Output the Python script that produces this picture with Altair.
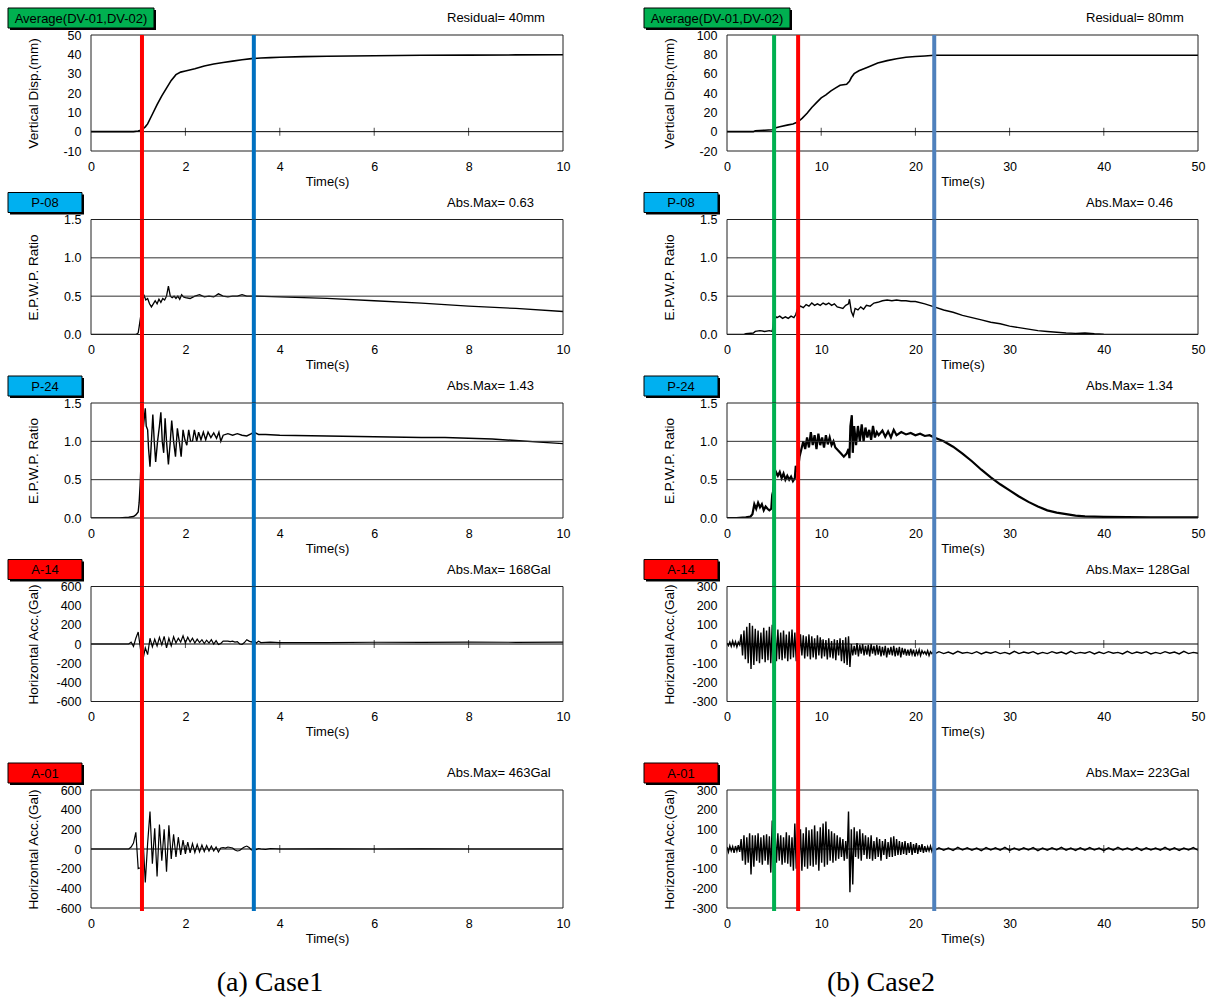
import altair as alt
import pandas as pd

FONT = "Liberation Sans"
SERIF = "Liberation Serif"

# ======================= Case 1 (0-10 s) =======================
c1_disp = [(0, 0), (0.5, 0), (0.9, 0), (1.0, 0.3), (1.05, 0.8), (1.1, 1.5), (1.15, 2.5),
           (1.2, 4), (1.3, 9), (1.4, 14), (1.5, 18.5), (1.6, 22.5), (1.7, 26.5), (1.8, 29.5),
           (1.9, 30.8), (2.0, 31.4), (2.2, 32.5), (2.4, 34.0), (2.6, 35.0), (2.8, 35.8),
           (3.0, 36.5), (3.2, 37.2), (3.4, 37.8), (3.6, 38.1), (3.8, 38.3), (4.0, 38.5),
           (4.5, 38.8), (5.0, 39.0), (6.0, 39.3), (7.0, 39.5), (8.0, 39.6), (9.0, 39.7), (10.0, 39.8)]

c1_p08 = [(0, 0), (0.95, 0), (1.0, 0.02), (1.02, 0.1), (1.08, 0.35), (1.12, 0.52), (1.16, 0.45),
          (1.2, 0.47), (1.24, 0.4), (1.28, 0.36), (1.32, 0.4), (1.36, 0.44), (1.4, 0.4),
          (1.44, 0.46), (1.48, 0.42), (1.52, 0.47), (1.56, 0.45), (1.6, 0.5), (1.64, 0.63),
          (1.68, 0.5), (1.72, 0.48), (1.76, 0.5), (1.8, 0.47), (1.84, 0.5), (1.88, 0.46),
          (1.92, 0.52), (1.96, 0.49), (2.0, 0.48), (2.1, 0.47), (2.2, 0.5), (2.3, 0.52),
          (2.4, 0.49), (2.5, 0.5), (2.6, 0.49), (2.7, 0.53), (2.8, 0.5), (2.9, 0.49),
          (3.0, 0.5), (3.1, 0.5), (3.2, 0.52), (3.3, 0.5), (3.5, 0.5), (4.0, 0.49),
          (5.0, 0.47), (6.0, 0.44), (7.0, 0.41), (8.0, 0.37), (9.0, 0.34), (10.0, 0.30)]

c1_p24 = [(0, 0), (0.6, 0), (0.8, 0.01), (0.9, 0.02), (0.95, 0.04), (1.0, 0.08), (1.02, 0.2),
          (1.04, 0.42), (1.08, 1.0), (1.12, 1.25), (1.15, 1.43), (1.17, 1.2), (1.2, 1.15),
          (1.22, 0.9), (1.25, 0.67), (1.28, 1.0), (1.31, 1.35), (1.34, 1.0), (1.37, 0.73),
          (1.41, 1.0), (1.45, 1.2), (1.48, 1.38), (1.51, 1.0), (1.54, 0.85), (1.57, 1.3),
          (1.6, 1.0), (1.64, 0.7), (1.68, 1.0), (1.71, 1.27), (1.75, 1.0), (1.79, 0.8),
          (1.83, 1.17), (1.87, 1.0), (1.91, 0.8), (1.95, 1.15), (1.99, 1.02), (2.03, 0.95),
          (2.07, 1.15), (2.11, 1.0), (2.15, 1.0), (2.19, 1.15), (2.24, 1.0), (2.28, 1.12),
          (2.33, 1.02), (2.38, 1.12), (2.43, 1.02), (2.48, 1.12), (2.54, 1.05), (2.6, 1.11),
          (2.66, 1.04), (2.71, 1.12), (2.75, 1.0), (2.8, 1.08), (2.9, 1.1), (3.0, 1.08),
          (3.1, 1.1), (3.2, 1.08), (3.3, 1.07), (3.4, 1.1), (3.45, 1.12), (3.55, 1.09),
          (3.7, 1.09), (4.0, 1.08), (5.0, 1.07), (6.0, 1.06), (7.0, 1.05), (7.5, 1.05),
          (8.0, 1.04), (8.5, 1.03), (9.0, 1.01), (9.5, 0.99), (10.0, 0.97)]

c1_a14_head = [(0, 0), (0.4, 0), (0.75, 0)]
c1_a14_t0, c1_a14_dt = 0.80, 0.05
c1_a14_vals = [0, 20, -25, 60, 125, -60, -165, -40, -110, 60,
               -30, 50, -20, 70, -10, 80, -40, 60, -20, 75,
               10, 60, 20, 85, 10, 70, 20, 60, 10, 50,
               15, 45, 5, 40, 10, 45, 0, 35, -5, 5,
               30, 30, 30, 25, 30, 20, 25, 0, -5, 15,
               45, 30, 20, 40, 10, 30, 15]
c1_a14_tail = [(3.8, 20), (4.0, 15), (5, 15), (6, 18), (7, 18), (8, 20), (9, 18), (10, 20)]

c1_a01_head = [(0, 0), (0.5, 0), (0.75, 0)]
c1_a01_t0, c1_a01_dt = 0.80, 0.05
c1_a01_vals = [0, 20, 60, 170, -200, -190, 130, -340, 60, 380,
               -150, 210, -280, 250, -120, 200, -230, 240, -100, 150,
               -80, 120, -60, 90, -50, 70, -40, 55, -35, 45,
               -30, 40, -25, 35, -20, 30, -20, 20, -30, 10,
               15, 10, 20, 15, 10, -10, -20, -15, 5, 20,
               30, 15, -10, 5, -5, 5, 0]
c1_a01_tail = [(3.7, -5), (3.8, 5), (4, 0), (5, 2), (6, 0), (7, 2), (8, 0), (9, 0), (10, 0)]

c1_events = [1.08, 3.45]
c1_event_colors = ["#FF0000", "#0070C0"]

# ======================= Case 2 (0-50 s) =======================
c2_disp = [(0, 0), (2.8, 0), (3.0, 1), (4.0, 1.5), (4.8, 2), (5.2, 4), (5.6, 5), (6.5, 7),
           (7.0, 8), (7.5, 10), (8.0, 14), (8.5, 19), (9.0, 25), (9.5, 30), (10.0, 35),
           (10.5, 38), (11.0, 42), (11.5, 45), (12.0, 48), (12.7, 49), (13.0, 52), (13.2, 56),
           (13.5, 60), (14.0, 63), (15.0, 67), (16.0, 71), (17.0, 73.5), (18.0, 75.5),
           (19.0, 77), (20.0, 77.8), (21.0, 78.3), (22.0, 79), (30, 79), (40, 79), (50, 79)]

c2_p08 = [(0, 0), (1.8, 0), (2, 0.01), (2.8, 0.02), (3.0, 0.04), (3.5, 0.05), (4.0, 0.04),
          (4.5, 0.05), (4.8, 0.04), (4.9, 0.12), (5.0, 0.25), (5.3, 0.22), (5.6, 0.24),
          (5.9, 0.21), (6.2, 0.23), (6.5, 0.21), (6.8, 0.24), (7.1, 0.22), (7.3, 0.26),
          (7.5, 0.34), (7.8, 0.37), (8.1, 0.35), (8.4, 0.39), (8.7, 0.37), (9.0, 0.41),
          (9.3, 0.38), (9.6, 0.4), (9.9, 0.38), (10.2, 0.41), (10.5, 0.39), (10.8, 0.41),
          (11.1, 0.38), (11.4, 0.4), (11.7, 0.36), (12.0, 0.35), (12.3, 0.34), (12.6, 0.38),
          (12.9, 0.4), (13.0, 0.46), (13.2, 0.3), (13.4, 0.24), (13.6, 0.34), (13.9, 0.32),
          (14.2, 0.36), (14.5, 0.33), (14.8, 0.38), (15.2, 0.37), (15.6, 0.41), (16.0, 0.42),
          (16.5, 0.44), (17, 0.45), (17.5, 0.44), (18, 0.45), (18.5, 0.44), (19, 0.44),
          (19.5, 0.43), (20, 0.43), (21, 0.4), (22, 0.36), (23, 0.32), (24, 0.29), (25, 0.25),
          (26, 0.22), (27, 0.19), (28, 0.16), (29, 0.14), (30, 0.11), (31, 0.09), (32, 0.07),
          (33, 0.05), (34, 0.04), (35, 0.03), (36, 0.02), (37, 0.015), (38, 0.02), (39, 0.01),
          (40, 0.005), (45, 0), (50, 0)]

c2_p24 = [(0, 0), (1, 0), (2, 0.01), (2.5, 0.02), (2.7, 0.05), (2.9, 0.18), (3.1, 0.12),
          (3.3, 0.2), (3.5, 0.14), (3.7, 0.18), (3.9, 0.1), (4.1, 0.15), (4.3, 0.12),
          (4.5, 0.1), (4.7, 0.12), (4.8, 0.3), (4.9, 0.35), (5.0, 0.5), (5.2, 0.6),
          (5.4, 0.55), (5.6, 0.6), (5.8, 0.52), (6.0, 0.58), (6.2, 0.5), (6.4, 0.55),
          (6.6, 0.5), (6.8, 0.54), (7.0, 0.48), (7.2, 0.52), (7.3, 0.68), (7.5, 0.6),
          (7.7, 0.8), (7.9, 0.9), (8.1, 1.0), (8.3, 0.9), (8.5, 1.05), (8.7, 0.92),
          (8.9, 1.12), (9.1, 0.95), (9.3, 1.08), (9.5, 0.9), (9.7, 1.1), (9.9, 0.95),
          (10.1, 1.05), (10.3, 0.92), (10.5, 1.08), (10.7, 0.96), (10.9, 1.05), (11.1, 0.95),
          (11.3, 1.0), (11.5, 0.92), (11.8, 0.88), (12.1, 0.84), (12.4, 0.8), (12.7, 0.84),
          (12.9, 0.9), (13.0, 0.78), (13.1, 1.2), (13.25, 1.34), (13.35, 0.85), (13.5, 1.2),
          (13.7, 0.95), (13.9, 1.2), (14.1, 1.0), (14.3, 1.22), (14.5, 1.0), (14.7, 1.18),
          (14.9, 1.05), (15.1, 1.15), (15.3, 1.02), (15.5, 1.2), (15.7, 1.05), (15.9, 1.12),
          (16.1, 1.08), (16.5, 1.14), (16.8, 1.06), (17.1, 1.13), (17.4, 1.05), (17.7, 1.15),
          (18.0, 1.08), (18.5, 1.12), (19, 1.09), (19.5, 1.11), (20, 1.08), (20.5, 1.1),
          (21, 1.07), (21.5, 1.08), (22, 1.05), (23, 1.0), (24, 0.93), (25, 0.84), (26, 0.74),
          (27, 0.63), (28, 0.53), (29, 0.44), (30, 0.36), (31, 0.28), (32, 0.21), (33, 0.15),
          (34, 0.1), (35, 0.07), (36, 0.05), (37, 0.03), (38, 0.02), (40, 0.015), (45, 0.01),
          (50, 0.01)]

c2_a14_t0, c2_a14_dt = 0.0, 0.15
c2_a14_vals = [5, -8, 10, -12, 15, -10, 12, -15, 10, -5,
               50, -60, 70, -80, 90, -100, 110, -130, 95, -110,
               80, -90, 70, -100, 60, -80, 85, -95, 70, -85, 90, -100,
               100, -130, 80, -90,
               75, -80, 60, -85, 70, -75, 50, -90, 65, -80, 75, -70, 60, -90,
               55, -70, 50, -60, 45, -75, 40, -65, 50, -80,
               40, -70, 30, -80, 45, -60, 35, -75, 25, -65,
               20, -80, 30, -70, 15, -75, 25, -85, 20, -60,
               30, -90, 20, -100, 35, -110, 40, -120,
               0, -60, -10, -55, 5, -65, -5, -50, 0, -60, -10, -55, -5, -65, 0, -50, -10, -60, -5, -55,
               -10, -65, -15, -60, -10, -70, -20, -55, -15, -60, -10, -65, -20, -60, -15, -70, -20, -55, -25, -60,
               -30, -60, -25, -55, -30, -65, -35, -55, -30, -60, -35, -50, -40, -55, -35, -60, -40, -50, -42, -52]
c2_a14_tail_t0, c2_a14_tail_dt = 22.5, 0.5
c2_a14_tail = [-40, -50, -42, -52, -38, -48, -44, -50, -40, -52, -42, -48, -40, -50,
               -44, -52, -38, -50, -42, -48, -40, -52, -44, -50, -40, -48, -42, -52,
               -38, -50, -44, -48, -40, -52, -42, -50, -40, -48, -44, -52, -38, -50,
               -42, -48, -40, -52, -44, -50, -40, -48, -42, -52, -38, -50, -44, -48]

c2_a01_t0, c2_a01_dt = 0.0, 0.15
c2_a01_vals = [10, -15, 15, -10, 12, -20, 15, -10, 20, -15,
               50, -60, 70, -80, 60, -70, 80, -130, 70, -90,
               70, -60, 80, -70, 60, -80, 70, -60, 75, -80, 65, -120,
               145, -90, 90, -70,
               80, -60, 70, -80, 60, -70, 85, -75, 70, -90, 60, -110,
               130, -100,
               90, -80, 100, -110, 80, -90, 110, -100, 95, -85,
               100, -90, 120, -80, 90, -110, 110, -70, 130, -90,
               140, -80, 100, -60, 90, -70, 80, -60, 70, -50,
               60, -40, 50, -60, 40, -50,
               190, -220, 100, -180,
               110, -40, 90, -50, 100, -60, 80, -30, 70, -50,
               60, -50, 70, -60, 40, -50, 60, -40, 50, -60, 40, -30, 50, -50, 35, -40,
               60, -40, 65, -35, 50, -30,
               40, -30, 35, -25, 40, -30, 30, -20, 35, -30, 25, -20, 30, -25, 20, -15, 25, -20,
               15, -15, 12, -10, 15, -12, 10, -8]
c2_a01_tail_t0, c2_a01_tail_dt = 22.5, 0.5
c2_a01_tail = [6, -6, 5, -7, 8, -5, 6, -6, 5, -8, 7, -5, 6, -6, 8, -7, 5, -6, 6, -5,
               7, -8, 5, -6, 6, -5, 8, -6, 5, -7, 6, -6, 7, -5, 5, -8, 6, -6, 8, -5,
               5, -6, 7, -7, 6, -5, 5, -6, 8, -6, 6, -7, 5, -5, 7, -6]

c2_events = [5.0, 7.55, 22.0]
c2_event_colors = ["#00B050", "#FF0000", "#4F81BD"]


# ======================= helpers =======================
def pairs_df(pairs):
    return pd.DataFrame({"t": [p[0] for p in pairs], "v": [p[1] for p in pairs]})


def sampled(vals, t0, dt):
    return [(round(t0 + i * dt, 4), v) for i, v in enumerate(vals)]


HEIGHTS = [116, 115, 115, 115, 118]
GAP = 68.5
EXTRA_TOP = 20  # extra room above the last row


def panel(col, row, label, lc, bw, annot, ytitle, ydom, yvals, fmt, df, lw, kind,
          ev_t, ev_c, caption=None):
    W = 472 if col == 0 else 471
    top = EXTRA_TOP if row == 4 else 0
    th = top + HEIGHTS[row]
    xmax = 10 if col == 0 else 50
    xstep = 2 if col == 0 else 10
    xvals = list(range(0, xmax + 1, xstep))
    xs = alt.Scale(domain=[0, xmax], nice=False, zero=False)
    ys = alt.Scale(domain=ydom, nice=False, zero=False, range=[th, top])
    one = pd.DataFrame({"k": [0]})

    ylabel_expr = "format(datum.value, '.1f')" if fmt == ".1f" else "'' + datum.value"
    xaxis = alt.Axis(values=xvals, labelExpr="'' + datum.value", title="Time(s)", labelFont=FONT,
                     labelFontSize=12.5, labelColor="black", labelPadding=9, ticks=False,
                     tickSize=0, domain=False, grid=False, labelFlush=False, labelOverlap=False,
                     titleFont=FONT, titleFontSize=13, titleFontWeight="normal",
                     titleColor="black", titleX=W / 2, titleY=30, titleBaseline="middle",
                     titleAlign="center")
    yaxis = alt.Axis(values=yvals, labelExpr=ylabel_expr, title=ytitle, labelFont=FONT,
                     labelFontSize=12.5, labelColor="black", labelPadding=10, ticks=False,
                     tickSize=0, domain=False, grid=False, labelFlush=False, labelOverlap=False,
                     titleFont=FONT, titleFontSize=13.5, titleFontWeight="normal",
                     titleColor="black", titleX=-58, titleY=(top + th) / 2, titleAngle=-90,
                     titleAlign="center", titleBaseline="middle")

    def X(f):
        return alt.X(f, scale=xs, axis=xaxis)

    def Y(f):
        return alt.Y(f, scale=ys, axis=yaxis)

    layers = []
    # data trace first (owns the axes)
    layers.append(alt.Chart(df).mark_line(color="black", strokeWidth=lw, clip=True).encode(
        x=X("t:Q"), y=Y("v:Q")))

    if kind == "zero":
        gdf = pd.DataFrame({"v": [0]})
        layers.append(alt.Chart(gdf).mark_rule(color="black", strokeWidth=1).encode(
            y=Y("v:Q"), x=alt.value(0), x2=alt.value(W)))
        tdf = pd.DataFrame({"t": xvals[1:-1], "v": [0] * (len(xvals) - 2)})
        layers.append(alt.Chart(tdf).mark_tick(orient="vertical", size=8, thickness=1,
                                               color="black").encode(x=X("t:Q"), y=Y("v:Q")))
    else:
        gdf = pd.DataFrame({"v": [0.5, 1.0]})
        layers.append(alt.Chart(gdf).mark_rule(color="#303030", strokeWidth=1).encode(
            y=Y("v:Q"), x=alt.value(0), x2=alt.value(W)))

    # plot-area frame
    layers.append(alt.Chart(one).mark_rect(fillOpacity=0, stroke="#202020", strokeWidth=1).encode(
        x=alt.value(0), x2=alt.value(W), y=alt.value(top), y2=alt.value(th)))

    # event lines
    edf = pd.DataFrame({"t": ev_t, "c": ev_c})
    y2 = th + 3 if row == 4 else th + GAP
    layers.append(alt.Chart(edf).mark_rule(strokeWidth=4).encode(
        x=X("t:Q"),
        color=alt.Color("c:N", scale=None, legend=None),
        y=alt.value(0), y2=alt.value(y2)))

    # label box (shadow + box + text)
    bx = -83
    layers.append(alt.Chart(one).mark_rect(color="black").encode(
        x=alt.value(bx + 2), x2=alt.value(bx + bw + 2),
        y=alt.value(top - 25), y2=alt.value(top - 5)))
    layers.append(alt.Chart(one).mark_rect(fill=lc, stroke="black", strokeWidth=1).encode(
        x=alt.value(bx), x2=alt.value(bx + bw),
        y=alt.value(top - 27), y2=alt.value(top - 7)))
    layers.append(alt.Chart(one).mark_text(font=FONT, fontSize=13, color="black",
                                           align="center", baseline="middle").encode(
        x=alt.value(bx + bw / 2), y=alt.value(top - 16.5), text=alt.value(label)))

    # annotation
    layers.append(alt.Chart(one).mark_text(font=FONT, fontSize=13, color="black",
                                           align="left", baseline="middle").encode(
        x=alt.value(356 if col == 0 else 359), y=alt.value(top - 17), text=alt.value(annot)))

    if caption is not None:
        layers.append(alt.Chart(one).mark_text(font=SERIF, fontSize=28, color="black",
                                               align="center", baseline="middle").encode(
            x=alt.value(179 if col == 0 else 154), y=alt.value(th + 75),
            text=alt.value(caption)))

    return alt.layer(*layers).properties(width=W, height=th)


# ======================= build data frames =======================
df_c1_disp = pairs_df(c1_disp)
df_c1_p08 = pairs_df(c1_p08)
df_c1_p24 = pairs_df(c1_p24)
df_c1_a14 = pairs_df(c1_a14_head + sampled(c1_a14_vals, c1_a14_t0, c1_a14_dt) + c1_a14_tail)
df_c1_a01 = pairs_df(c1_a01_head + sampled(c1_a01_vals, c1_a01_t0, c1_a01_dt) + c1_a01_tail)

df_c2_disp = pairs_df(c2_disp)
df_c2_p08 = pairs_df(c2_p08)
df_c2_p24 = pairs_df(c2_p24)
df_c2_a14 = pairs_df(sampled(c2_a14_vals, c2_a14_t0, c2_a14_dt)
                     + sampled(c2_a14_tail, c2_a14_tail_t0, c2_a14_tail_dt))
df_c2_a01 = pairs_df(sampled(c2_a01_vals, c2_a01_t0, c2_a01_dt)
                     + sampled(c2_a01_tail, c2_a01_tail_t0, c2_a01_tail_dt))

GREEN, CYAN, RED = "#00B050", "#00B0F0", "#FF0000"
EPWP = "E.P.W.P. Ratio"
ACC = "Horizontal  Acc.(Gal)"

panels = [
    panel(0, 0, "Average(DV-01,DV-02)", GREEN, 146, "Residual= 40mm", "Vertical Disp.(mm)",
          [-10, 50], list(range(-10, 51, 10)), "d", df_c1_disp, 1.6, "zero", c1_events, c1_event_colors),
    panel(1, 0, "Average(DV-01,DV-02)", GREEN, 146, "Residual= 80mm", "Vertical Disp.(mm)",
          [-20, 100], list(range(-20, 101, 20)), "d", df_c2_disp, 1.6, "zero", c2_events, c2_event_colors),
    panel(0, 1, "P-08", CYAN, 74, "Abs.Max= 0.63", EPWP,
          [0, 1.5], [0, 0.5, 1.0, 1.5], ".1f", df_c1_p08, 1.3, "grid", c1_events, c1_event_colors),
    panel(1, 1, "P-08", CYAN, 74, "Abs.Max= 0.46", EPWP,
          [0, 1.5], [0, 0.5, 1.0, 1.5], ".1f", df_c2_p08, 1.4, "grid", c2_events, c2_event_colors),
    panel(0, 2, "P-24", CYAN, 74, "Abs.Max= 1.43", EPWP,
          [0, 1.5], [0, 0.5, 1.0, 1.5], ".1f", df_c1_p24, 1.4, "grid", c1_events, c1_event_colors),
    panel(1, 2, "P-24", CYAN, 74, "Abs.Max= 1.34", EPWP,
          [0, 1.5], [0, 0.5, 1.0, 1.5], ".1f", df_c2_p24, 2.2, "grid", c2_events, c2_event_colors),
    panel(0, 3, "A-14", RED, 74, "Abs.Max= 168Gal", ACC,
          [-600, 600], list(range(-600, 601, 200)), "d", df_c1_a14, 1.2, "zero", c1_events, c1_event_colors),
    panel(1, 3, "A-14", RED, 74, "Abs.Max= 128Gal", ACC,
          [-300, 300], list(range(-300, 301, 100)), "d", df_c2_a14, 1.4, "zero", c2_events, c2_event_colors),
    panel(0, 4, "A-01", RED, 74, "Abs.Max= 463Gal", ACC,
          [-600, 600], list(range(-600, 601, 200)), "d", df_c1_a01, 1.2, "zero", c1_events, c1_event_colors,
          caption="(a) Case1"),
    panel(1, 4, "A-01", RED, 74, "Abs.Max= 223Gal", ACC,
          [-300, 300], list(range(-300, 301, 100)), "d", df_c2_a01, 1.4, "zero", c2_events, c2_event_colors,
          caption="(b) Case2"),
]

chart = alt.concat(
    *panels, columns=2, spacing={"row": GAP, "column": 164}, bounds="flush", align="each"
).properties(
    padding={"left": 7, "top": 7, "right": 5, "bottom": 2}, background="white"
).configure(font=FONT).configure_view(strokeWidth=0)

chart.save("out.html", embed_options={"renderer": "svg", "actions": False})
